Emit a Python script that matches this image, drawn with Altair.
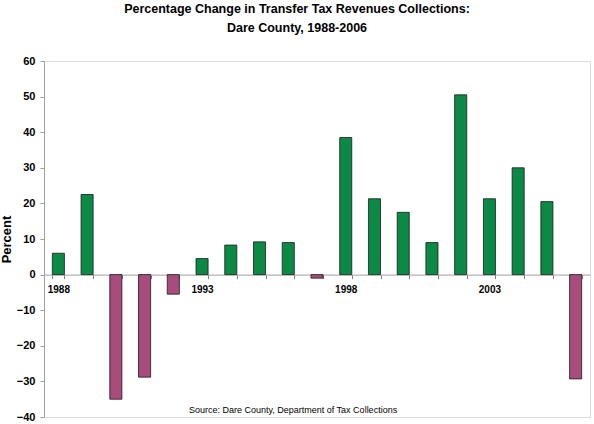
import altair as alt
import pandas as pd

years = [str(y) for y in range(1988, 2007)]
pct_change = [6.0, 22.5, -35.0, -28.8, -5.5, 4.5, 8.3, 9.2, 9.0, -1.0,
              38.5, 21.3, 17.5, 9.0, 50.5, 21.3, 30.0, 20.5, -29.3]
labeled_years = ["1988", "1993", "1998", "2003"]

df = pd.DataFrame({"year": years, "pct": pct_change})
df["sign"] = ["pos" if v >= 0 else "neg" for v in pct_change]

W, H = 546, 356
y_min, y_max = -40, 60
zero_from_bottom = H * (0 - y_min) / (y_max - y_min)

FONT = "Liberation Sans, Arial, sans-serif"

x_enc = alt.X(
    "year:N",
    sort=years,
    scale=alt.Scale(paddingInner=0.58, paddingOuter=0.29),
    axis=alt.Axis(
        title=None,
        orient="bottom",
        offset=-zero_from_bottom,
        domainColor="#a0a0a0",
        tickColor="#808080",
        tickSize=4,
        tickBand="extent",
        labelExpr="indexof(['1988','1993','1998','2003'], datum.value) >= 0 ? datum.value : ''",
        labelFont=FONT,
        labelFontWeight="bold",
        labelFontSize=10,
        labelColor="#000000",
        labelPadding=6,
        labelAngle=0,
    ),
)

bars = alt.Chart(df).mark_bar(stroke="#1a1a1a", strokeWidth=0.8).encode(
    x=x_enc,
    y=alt.Y(
        "pct:Q",
        scale=alt.Scale(domain=[y_min, y_max], nice=False),
        axis=alt.Axis(
            title="Percent",
            titleFont=FONT,
            titleFontSize=13,
            titleFontWeight="bold",
            titleColor="#000000",
            titlePadding=3,
            values=list(range(-40, 61, 10)),
            labelOverlap=False,
            grid=False,
            domainColor="#a0a0a0",
            tickColor="#a0a0a0",
            tickSize=4,
            labelFont=FONT,
            labelFontWeight="bold",
            labelFontSize=11,
            labelColor="#000000",
            labelPadding=5,
        ),
    ),
    color=alt.Color(
        "sign:N",
        scale=alt.Scale(domain=["pos", "neg"], range=["#0b8a45", "#a84c7c"]),
        legend=None,
    ),
)

# source note sits just above the bottom edge of the plot
source = alt.Chart(pd.DataFrame({"t": ["Source: Dare County, Department of Tax Collections"]})).mark_text(
    font=FONT, fontSize=9, color="#000000", baseline="middle", align="center"
).encode(
    x=alt.value(249),
    y=alt.value(349),
    text="t:N",
)

chart = (
    alt.layer(bars, source)
    .properties(
        width=W,
        height=H,
        autosize=alt.AutoSizeParams(type="none"),
        padding={"left": 44, "top": 61, "right": 4, "bottom": 7},
        title=alt.TitleParams(
            text=["Percentage Change in Transfer Tax Revenues Collections:", "Dare County, 1988-2006"],
            font=FONT,
            fontSize=12.5,
            fontWeight="bold",
            color="#000000",
            anchor="middle",
            offset=21,
            lineHeight=18.5,
            dx=-20,
        ),
    )
    .configure_view(stroke="#d8d8d8", strokeWidth=1)
    .configure(background="#ffffff")
)

chart.save("out.html", embed_options={"renderer": "svg", "actions": False})
